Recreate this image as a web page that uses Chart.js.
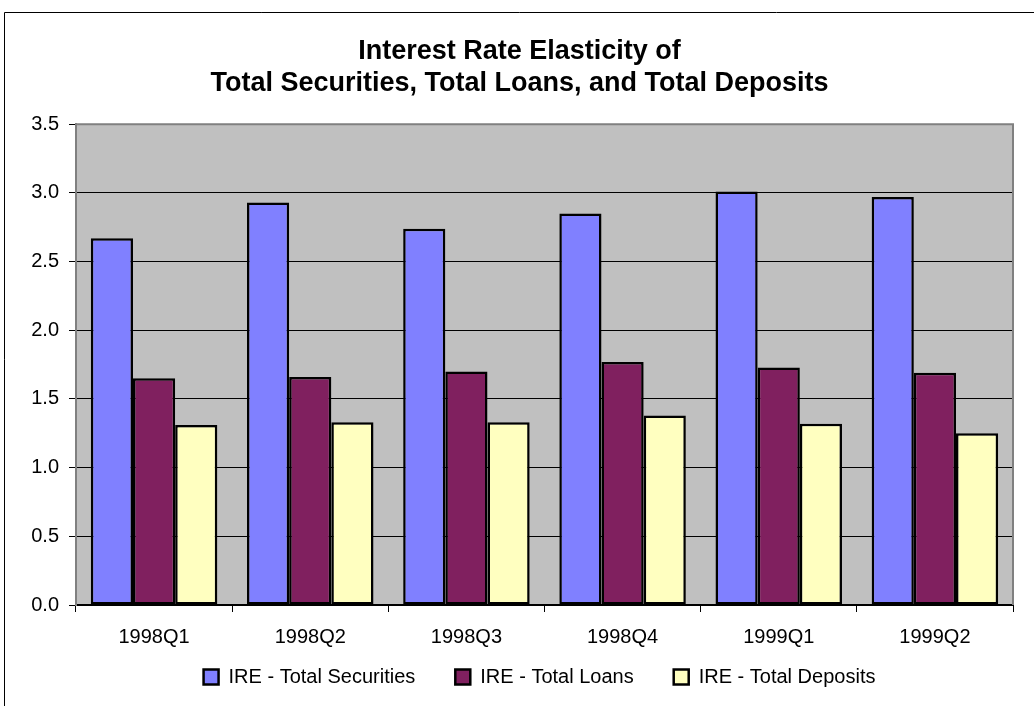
<!DOCTYPE html>
<html>
<head>
<meta charset="utf-8">
<script src="https://cdn.jsdelivr.net/npm/chart.js@4/dist/chart.umd.min.js"></script>
<style>
    html, body { margin: 0; padding: 0; background: #fff; }
    canvas { display: block; }
</style>
</head>
<body>
<canvas id="ireChart" width="1034" height="706"></canvas>
<script>
// Chart data
const quarters = ['1998Q1', '1998Q2', '1998Q3', '1998Q4', '1999Q1', '1999Q2'];
const securities = [2.67, 2.93, 2.74, 2.85, 3.01, 2.97];
const loans = [1.65, 1.66, 1.70, 1.77, 1.73, 1.69];
const deposits = [1.31, 1.33, 1.33, 1.38, 1.32, 1.25];
const yTicks = [0, 0.5, 1.0, 1.5, 2.0, 2.5, 3.0, 3.5];

const FONT = '"Liberation Sans", Arial, sans-serif';

// gray plot area + frame around the whole chart
const plotFrame = {
    id: 'plotFrame',
    afterLayout(chart) {
        // legend: wide item spacing but close under the axis labels, a bit right of centre
        const lg = chart.legend;
        if (lg) {
            lg.top = 627;
            lg.bottom = 706;
            lg.left += 20;
            lg.right += 20;
        }
    },
    beforeDraw(chart) {
        const { ctx, chartArea: a } = chart;
        ctx.save();
        ctx.fillStyle = '#C0C0C0';
        ctx.fillRect(a.left, a.top, a.right - a.left, a.bottom - a.top);
        ctx.restore();
    },
    afterDraw(chart) {
        const { ctx, chartArea: a } = chart;
        ctx.save();
        ctx.strokeStyle = '#808080';
        ctx.lineWidth = 2;
        ctx.beginPath();
        ctx.moveTo(a.left, a.bottom);
        ctx.lineTo(a.left, a.top);
        ctx.lineTo(a.right, a.top);
        ctx.lineTo(a.right, a.bottom);
        ctx.stroke();
        // outer chart border
        ctx.strokeStyle = '#000';
        ctx.lineWidth = 1;
        ctx.beginPath();
        ctx.moveTo(4.5, 706);
        ctx.lineTo(4.5, 12.5);
        ctx.lineTo(1034, 12.5);
        ctx.stroke();
        ctx.restore();
    }
};

function makeSet(label, data, color) {
    return {
        label: label,
        data: data,
        backgroundColor: color,
        borderColor: '#000',
        borderWidth: 2.5,
        borderSkipped: false,
        barPercentage: 1.0,
        categoryPercentage: 0.81
    };
}

new Chart(document.getElementById('ireChart'), {
    type: 'bar',
    data: {
        labels: quarters,
        datasets: [
            makeSet('IRE - Total Securities', securities, '#8080FF'),
            makeSet('IRE - Total Loans', loans, '#80205F'),
            makeSet('IRE - Total Deposits', deposits, '#FFFFC0')
        ]
    },
    plugins: [plotFrame],
    options: {
        responsive: false,
        animation: false,
        layout: {
            padding: { top: 12, left: 26, right: 21, bottom: 0 }
        },
        plugins: {
            title: {
                display: true,
                text: ['Interest Rate Elasticity of', 'Total Securities, Total Loans, and Total Deposits'],
                color: '#000',
                font: { family: FONT, size: 27, weight: 'bold', lineHeight: 1.19 },
                padding: { top: 23, bottom: 25 }
            },
            legend: {
                position: 'bottom',
                maxHeight: 55,
                labels: {
                    color: '#000',
                    font: { family: FONT, size: 20 },
                    boxWidth: 15,
                    boxHeight: 15,
                    padding: 40
                }
            },
            tooltip: { enabled: false }
        },
        scales: {
            x: {
                offset: true,
                afterFit(scale) {
                    scale.height = 46;
                },
                grid: {
                    offset: true,
                    drawOnChartArea: false,
                    color: '#000',
                    tickLength: 7
                },
                border: { color: '#000', width: 2 },
                ticks: {
                    color: '#000',
                    font: { family: FONT, size: 20 },
                    padding: 13
                }
            },
            y: {
                min: 0,
                max: 3.5,
                afterBuildTicks(scale) {
                    scale.ticks = yTicks.map(v => ({ value: v }));
                },
                afterFit(scale) {
                    scale.width = 50;
                },
                grid: {
                    color: '#000',
                    lineWidth: 1,
                    tickLength: 7,
                    tickColor: '#000'
                },
                border: { color: '#808080', width: 2 },
                ticks: {
                    color: '#000',
                    font: { family: FONT, size: 20 },
                    padding: 10,
                    callback: v => Number(v).toFixed(1)
                }
            }
        }
    }
});
</script>
</body>
</html>
